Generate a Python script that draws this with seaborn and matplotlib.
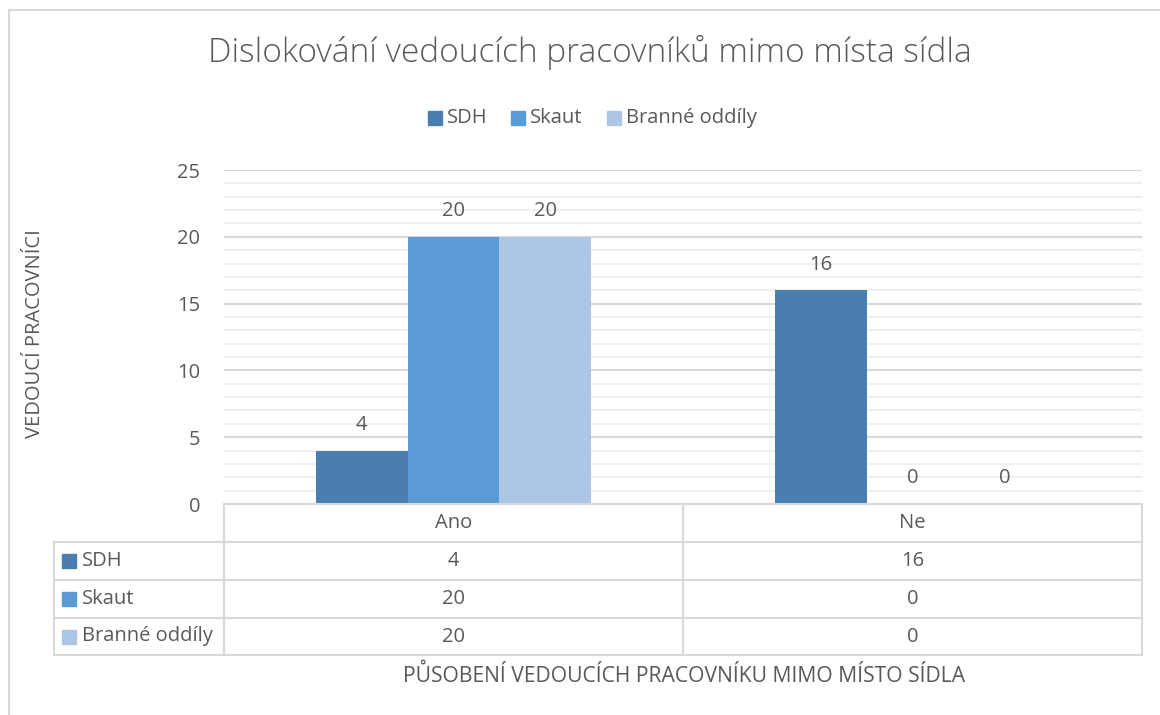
import matplotlib
matplotlib.use("Agg")
import matplotlib.pyplot as plt
import seaborn as sns
import pandas as pd
from matplotlib.lines import Line2D
from matplotlib.patches import Rectangle

# ---- data ----
categories = ["Ano", "Ne"]
series = ["SDH", "Skaut", "Branné oddíly"]
sdh = [4, 16]
skaut = [20, 0]
branne = [20, 0]
yticks = [0, 5, 10, 15, 20, 25]
title = "Dislokování vedoucích pracovníků mimo místa sídla"
ylabel = "VEDOUCÍ PRACOVNÍCI"
xlabel = "PŮSOBENÍ VEDOUCÍCH PRACOVNÍKU MIMO MÍSTO SÍDLA"
colors = ["#4A7EAE", "#5B9BD5", "#ADC6E6"]

values = [sdh, skaut, branne]
df = pd.DataFrame({
    "cat": categories * len(series),
    "series": [s for s in series for _ in categories],
    "val": [v for vals in values for v in vals],
})

sns.set_style("white")
plt.rcParams["font.family"] = ["Open Sans", "DejaVu Sans"]
TXT = "#595959"
GRID = "#D9D9D9"
MINOR = "#EFEFEF"
FS = 14.5

W, H = 1160, 715
fig = plt.figure(figsize=(W / 100, H / 100), dpi=100)

def fx(x):
    return x / W

def fy(y):
    return 1 - y / H

# chart frame
fig.add_artist(Line2D([fx(9), fx(9)], [fy(10), 0], color=GRID, lw=1.5, transform=fig.transFigure))
fig.add_artist(Line2D([fx(9), 1], [fy(10), fy(10)], color=GRID, lw=1.5, transform=fig.transFigure))

# main axes
L, R, T, B = 224, 1142, 170, 504
ax = fig.add_axes([fx(L), fy(B), fx(R) - fx(L), fy(T) - fy(B)])
sns.barplot(data=df, x="cat", y="val", hue="series", hue_order=series, order=categories,
            palette=colors, width=0.6, gap=0, ax=ax, legend=False, saturation=1,
            edgecolor="none", linewidth=0)
ax.set_xlim(-0.5, 1.5)
ax.set_ylim(0, 25)
for v in range(0, 26):
    if v % 5 == 0:
        ax.axhline(v, color=GRID, lw=1.5, zorder=0)
    else:
        ax.axhline(v, color=MINOR, lw=1.5, zorder=0)
ax.set_yticks(yticks)
ax.set_yticklabels([str(t) for t in yticks], fontsize=FS, color=TXT)
ax.tick_params(axis="y", length=0, pad=17)
ax.set_xticks([])
ax.set_xlabel("")
ax.set_ylabel("")
for s in ax.spines.values():
    s.set_visible(False)

for cont in ax.containers:
    for bar in cont:
        h = bar.get_height()
        ax.annotate(f"{int(h)}", (bar.get_x() + bar.get_width() / 2, h),
                    xytext=(0, 18.5), textcoords="offset points",
                    ha="center", va="center", fontsize=FS, color=TXT)

# title, legend, axis labels
fig.text(fx(590), fy(52), title, ha="center", va="center", fontsize=24, color=TXT, fontweight="light")

leg_items = [(428, "SDH"), (511, "Skaut"), (607, "Branné oddíly")]
for (x0, name), c in zip(leg_items, colors):
    fig.add_artist(Rectangle((fx(x0), fy(125)), fx(14), 14 / H, color=c, transform=fig.transFigure))
    fig.text(fx(x0 + 19), fy(118), name, ha="left", va="center", fontsize=FS, color=TXT)

fig.text(fx(35), fy(334), ylabel, rotation=90, ha="center", va="center", fontsize=FS, color=TXT)
fig.text(fx(684), fy(676), xlabel, ha="center", va="center", fontsize=15.2, color=TXT)

# data table
rows_y = [504, 542, 580, 618, 655]
col_x = [54, 224, 683, 1142]
lk = dict(color=GRID, lw=1.5, transform=fig.transFigure)
fig.add_artist(Line2D([fx(224), fx(1142)], [fy(504), fy(504)], **lk))
for y in rows_y[1:]:
    fig.add_artist(Line2D([fx(54), fx(1142)], [fy(y), fy(y)], **lk))
for x in col_x[1:]:
    fig.add_artist(Line2D([fx(x), fx(x)], [fy(504), fy(655)], **lk))
fig.add_artist(Line2D([fx(54), fx(54)], [fy(542), fy(655)], **lk))

centers = [(col_x[i] + col_x[i + 1]) / 2 for i in range(1, 3)]
for c, cx in zip(categories, centers):
    fig.text(fx(cx), fy(523), c, ha="center", va="center", fontsize=FS, color=TXT)
for r, (name, vals, col) in enumerate(zip(series, values, colors)):
    yc = (rows_y[r + 1] + rows_y[r + 2]) / 2
    fig.add_artist(Rectangle((fx(62), fy(yc + 7)), fx(14), 14 / H, color=col, transform=fig.transFigure))
    fig.text(fx(82), fy(yc), name, ha="left", va="center", fontsize=FS, color=TXT)
    for v, cx in zip(vals, centers):
        fig.text(fx(cx), fy(yc), str(v), ha="center", va="center", fontsize=FS, color=TXT)

fig.savefig("out.png", dpi=100, facecolor="white")
